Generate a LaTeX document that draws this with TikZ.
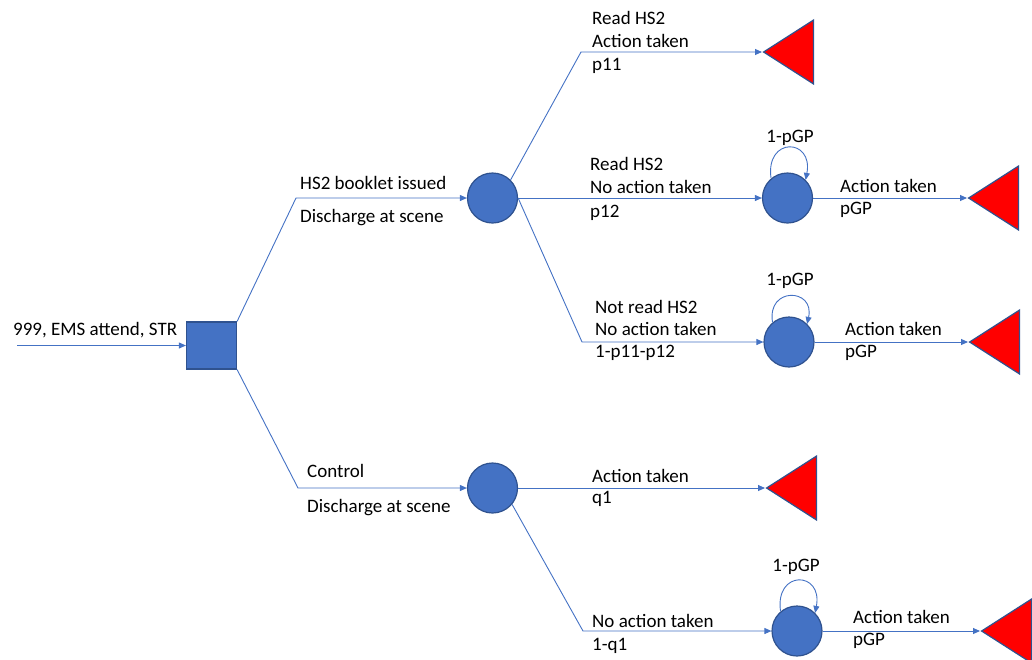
\documentclass[tikz,border=0pt]{standalone}
\usepackage{fontspec}
\setmainfont{Carlito}
\usetikzlibrary{arrows.meta, shapes.geometric}

\definecolor{lineblue}{HTML}{4472C4}
\definecolor{edgeblue}{HTML}{2F528F}

\begin{document}
\begin{tikzpicture}[x = 1pt, y = -1pt,
	conn/.style = {draw = lineblue, line width = .9pt, -{Triangle[length = 7pt, width = 6pt]}},
	chance/.style = {circle, draw = edgeblue, fill = lineblue, line width = 1.2pt, minimum size = 50pt, inner sep = 0pt},
	decision/.style = {rectangle, draw = edgeblue, fill = lineblue, line width = 1.2pt, minimum width = 50pt, minimum height = 47pt, inner sep = 0pt},
	term/.style = {isosceles triangle, isosceles triangle stretches, shape border rotate = 180, draw = edgeblue, fill = red, line width = 1.2pt, minimum width = 64pt, minimum height = 50pt, inner sep = 0pt, anchor = apex},
	lbl/.style = {anchor = base west, inner sep = 0pt, font = \fontsize{19}{22}\selectfont}]
		\useasboundingbox (0,0) rectangle (1032,659);
		
		\node (d0) at (211.5,345.5) [decision] {};
		\node (c1) at (492.5,198) [chance] {};
		\node (c2) at (492.5,488) [chance] {};
		\node (c3) at (787.5,198) [chance] {};
		\node (c4) at (789,342) [chance] {};
		\node (c5) at (797,631) [chance] {};
		
		\node (t1) at (762,52) [term] {};
		\node (t2) at (967,198) [term] {};
		\node (t3) at (968,342) [term] {};
		\node (t4) at (765,488) [term] {};
		\node (t5) at (980,631) [term] {};
		
		\coordinate (in) at (17,345.5);
		\coordinate (b1) at (296,198);
		\coordinate (b2) at (298,488);
		\coordinate (b3) at (581,52);
		\coordinate (b4) at (582,342);
		\coordinate (b5) at (583,631);
		
		\draw [conn] (in) -- (d0.west);
		\draw [conn] (d0.north east) -- (b1) -- (c1);
		\draw [conn] (d0.south east) -- (b2) -- (c2);
		\draw [conn] (c1.45) -- (b3) -- (t1.apex);
		\draw [conn] (c1.east) -- (c3);
		\draw [conn] (c1.east) -- (b4) -- (c4);
		\draw [conn] (c3) -- (t2.apex);
		\draw [conn] (c4) -- (t3.apex);
		\draw [conn] (c2) -- (t4.apex);
		\draw [conn] (c2.-40) -- (b5) -- (c5);
		\draw [conn] (c5) -- (t5.apex);
		
		\draw [conn] (c3.130) .. controls +(-6,-42) and +(8,-42) .. (c3.45);
		\draw [conn] (c4.130) .. controls +(-6,-36) and +(8,-36) .. (c4.45);
		\draw [conn] (c5.130) .. controls +(-6,-42) and +(8,-42) .. (c5.45);
		
		\node (s0) at (13,335) [lbl] {999, EMS attend, STR};
		\node (s1) at (300,189) [lbl] {HS2 booklet issued};
		\node (s2) at (300,222) [lbl] {Discharge at scene};
		\node (s3) at (307,477) [lbl] {Control};
		\node (s4) at (307,512) [lbl] {Discharge at scene};
		
		\node (u1) at (592,24) [lbl] {Read HS2};
		\node (u2) at (592,47) [lbl] {Action taken};
		\node (u3) at (592,70) [lbl] {p11};
		\node (m1) at (590,170) [lbl] {Read HS2};
		\node (m2) at (590,193) [lbl] {No action taken};
		\node (m3) at (590,217) [lbl] {p12};
		\node (n1) at (595,313) [lbl] {Not read HS2};
		\node (n2) at (595,335) [lbl] {No action taken};
		\node (n3) at (595,357) [lbl] {1-p11-p12};
		\node (q1) at (592,482) [lbl] {Action taken};
		\node (q2) at (592,503) [lbl] {q1};
		\node (r1) at (592,627) [lbl] {No action taken};
		\node (r2) at (592,650) [lbl] {1-q1};
		
		\node (g1) at (840,192) [lbl] {Action taken};
		\node (g2) at (840,214) [lbl] {pGP};
		\node (h1) at (845,335) [lbl] {Action taken};
		\node (h2) at (845,357) [lbl] {pGP};
		\node (k1) at (853,623) [lbl] {Action taken};
		\node (k2) at (853,645) [lbl] {pGP};
		
		\node (lp1) at (790,142) [lbl, anchor = base] {1-pGP};
		\node (lp2) at (790,285) [lbl, anchor = base] {1-pGP};
		\node (lp3) at (796,571) [lbl, anchor = base] {1-pGP};
\end{tikzpicture}
\end{document}
